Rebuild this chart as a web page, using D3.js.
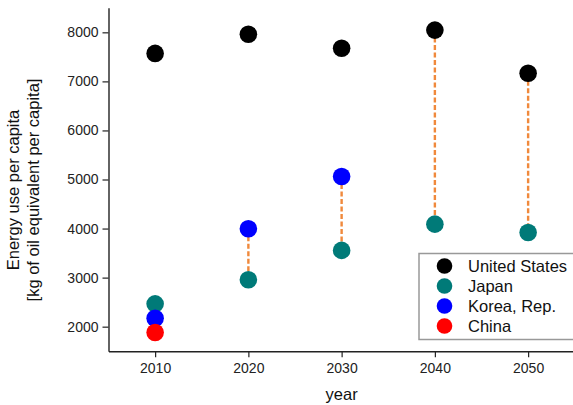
<!DOCTYPE html>
<html>
<head>
<meta charset="utf-8">
<script src="https://cdn.jsdelivr.net/npm/d3@7"></script>
<style>
html,body{margin:0;padding:0;background:#fff;}
svg{display:block;font-family:"Liberation Sans",Arial,sans-serif;}
</style>
</head>
<body>
<svg id="chart" width="573" height="405"></svg>
<script>
// ---- data ----
const years = [2010, 2020, 2030, 2040, 2050];
const seriesNames = ["United States", "Japan", "Korea, Rep.", "China"];
const seriesColors = ["#000000", "#007a78", "#0000ff", "#ff0000"];
const unitedStates = [7570, 7960, 7675, 8045, 7165];
const japan = [2465, 2955, 3555, 4090, 3920];
const korea = [2170, 3995, 5060, null, null];
const china = [1880, null, null, null, null];
// dashed connectors: [year, upper series index, lower series index]
const connectors = [[2020, 2, 1], [2030, 2, 1], [2040, 0, 1], [2050, 0, 1]];
const xTicks = [2010, 2020, 2030, 2040, 2050];
const yTicks = [2000, 3000, 4000, 5000, 6000, 7000, 8000];

const seriesValues = [unitedStates, japan, korea, china];

const svg = d3.select("#chart");
const x = d3.scaleLinear().domain([2005, 2055]).range([108.5, 574.75]);
const y = d3.scaleLinear().domain([1500, 8500]).range([351.2, 7.8]);

const axisColor = "#222";

// x axis
const xAxisG = svg.append("g").attr("transform", "translate(0,351.2)");
xAxisG.call(d3.axisBottom(x).tickValues(d3.range(2005, 2056, 5)).tickFormat("").tickSize(4).tickSizeOuter(0));
xAxisG.call(d3.axisBottom(x).tickValues(xTicks).tickFormat(d3.format("d")).tickSize(6).tickSizeOuter(0).tickPadding(6));
xAxisG.selectAll("path.domain").attr("stroke", axisColor).attr("stroke-width", 1.4);
xAxisG.selectAll("line").attr("stroke", axisColor).attr("stroke-width", 1.2);
xAxisG.selectAll("text").attr("font-size", 14).attr("fill", "#222").attr("font-family", "Liberation Sans, Arial, sans-serif");

// y axis
const yAxisG = svg.append("g").attr("transform", "translate(108.5,0)");
yAxisG.call(d3.axisLeft(y).tickValues(d3.range(1500, 8501, 500)).tickFormat("").tickSize(3).tickSizeOuter(0));
yAxisG.call(d3.axisLeft(y).tickValues(yTicks).tickFormat(d3.format("d")).tickSize(6).tickSizeOuter(0).tickPadding(4));
yAxisG.selectAll("path.domain").attr("stroke", axisColor).attr("stroke-width", 1.4);
yAxisG.selectAll("line").attr("stroke", axisColor).attr("stroke-width", 1.2);
yAxisG.selectAll("text").attr("font-size", 14).attr("fill", "#222").attr("font-family", "Liberation Sans, Arial, sans-serif");

// axis titles
svg.append("text").attr("x", x(2030)).attr("y", 400).attr("text-anchor", "middle")
  .attr("font-size", 16.5).attr("fill", "#111").text("year");
const yt = svg.append("g").attr("transform", "translate(0,190) rotate(-90)");
yt.append("text").attr("x", 0).attr("y", 19).attr("text-anchor", "middle")
  .attr("font-size", 16.5).attr("fill", "#111").text("Energy use per capita");
yt.append("text").attr("x", 0).attr("y", 38.5).attr("text-anchor", "middle")
  .attr("font-size", 16.5).attr("fill", "#111").text("[kg of oil equivalent per capita]");

// connectors
svg.append("g").selectAll("line").data(connectors).join("line")
  .attr("x1", d => x(d[0])).attr("x2", d => x(d[0]))
  .attr("y1", d => y(seriesValues[d[1]][years.indexOf(d[0])]))
  .attr("y2", d => y(seriesValues[d[2]][years.indexOf(d[0])]))
  .attr("stroke", "#f0893c").attr("stroke-width", 2.4).attr("stroke-dasharray", "5,2.5");

// points
const pts = [];
seriesValues.forEach((vals, si) => {
  vals.forEach((v, i) => { if (v != null) pts.push({ s: si, year: years[i], v }); });
});
svg.append("g").selectAll("circle").data(pts).join("circle")
  .attr("cx", d => x(d.year)).attr("cy", d => y(d.v)).attr("r", 8.8)
  .attr("fill", d => seriesColors[d.s]);

// legend
const lg = svg.append("g");
lg.append("rect").attr("x", 419).attr("y", 253.5).attr("width", 170).attr("height", 86)
  .attr("fill", "#fff").attr("stroke", "#999").attr("stroke-width", 1.5);
seriesNames.forEach((name, i) => {
  const cy = 266 + i * 20;
  lg.append("circle").attr("cx", 444.5).attr("cy", cy).attr("r", 7.8).attr("fill", seriesColors[i]);
  lg.append("text").attr("x", 468).attr("y", cy + 5.5).attr("font-size", 16.5).attr("fill", "#111").text(name);
});
</script>
</body>
</html>
